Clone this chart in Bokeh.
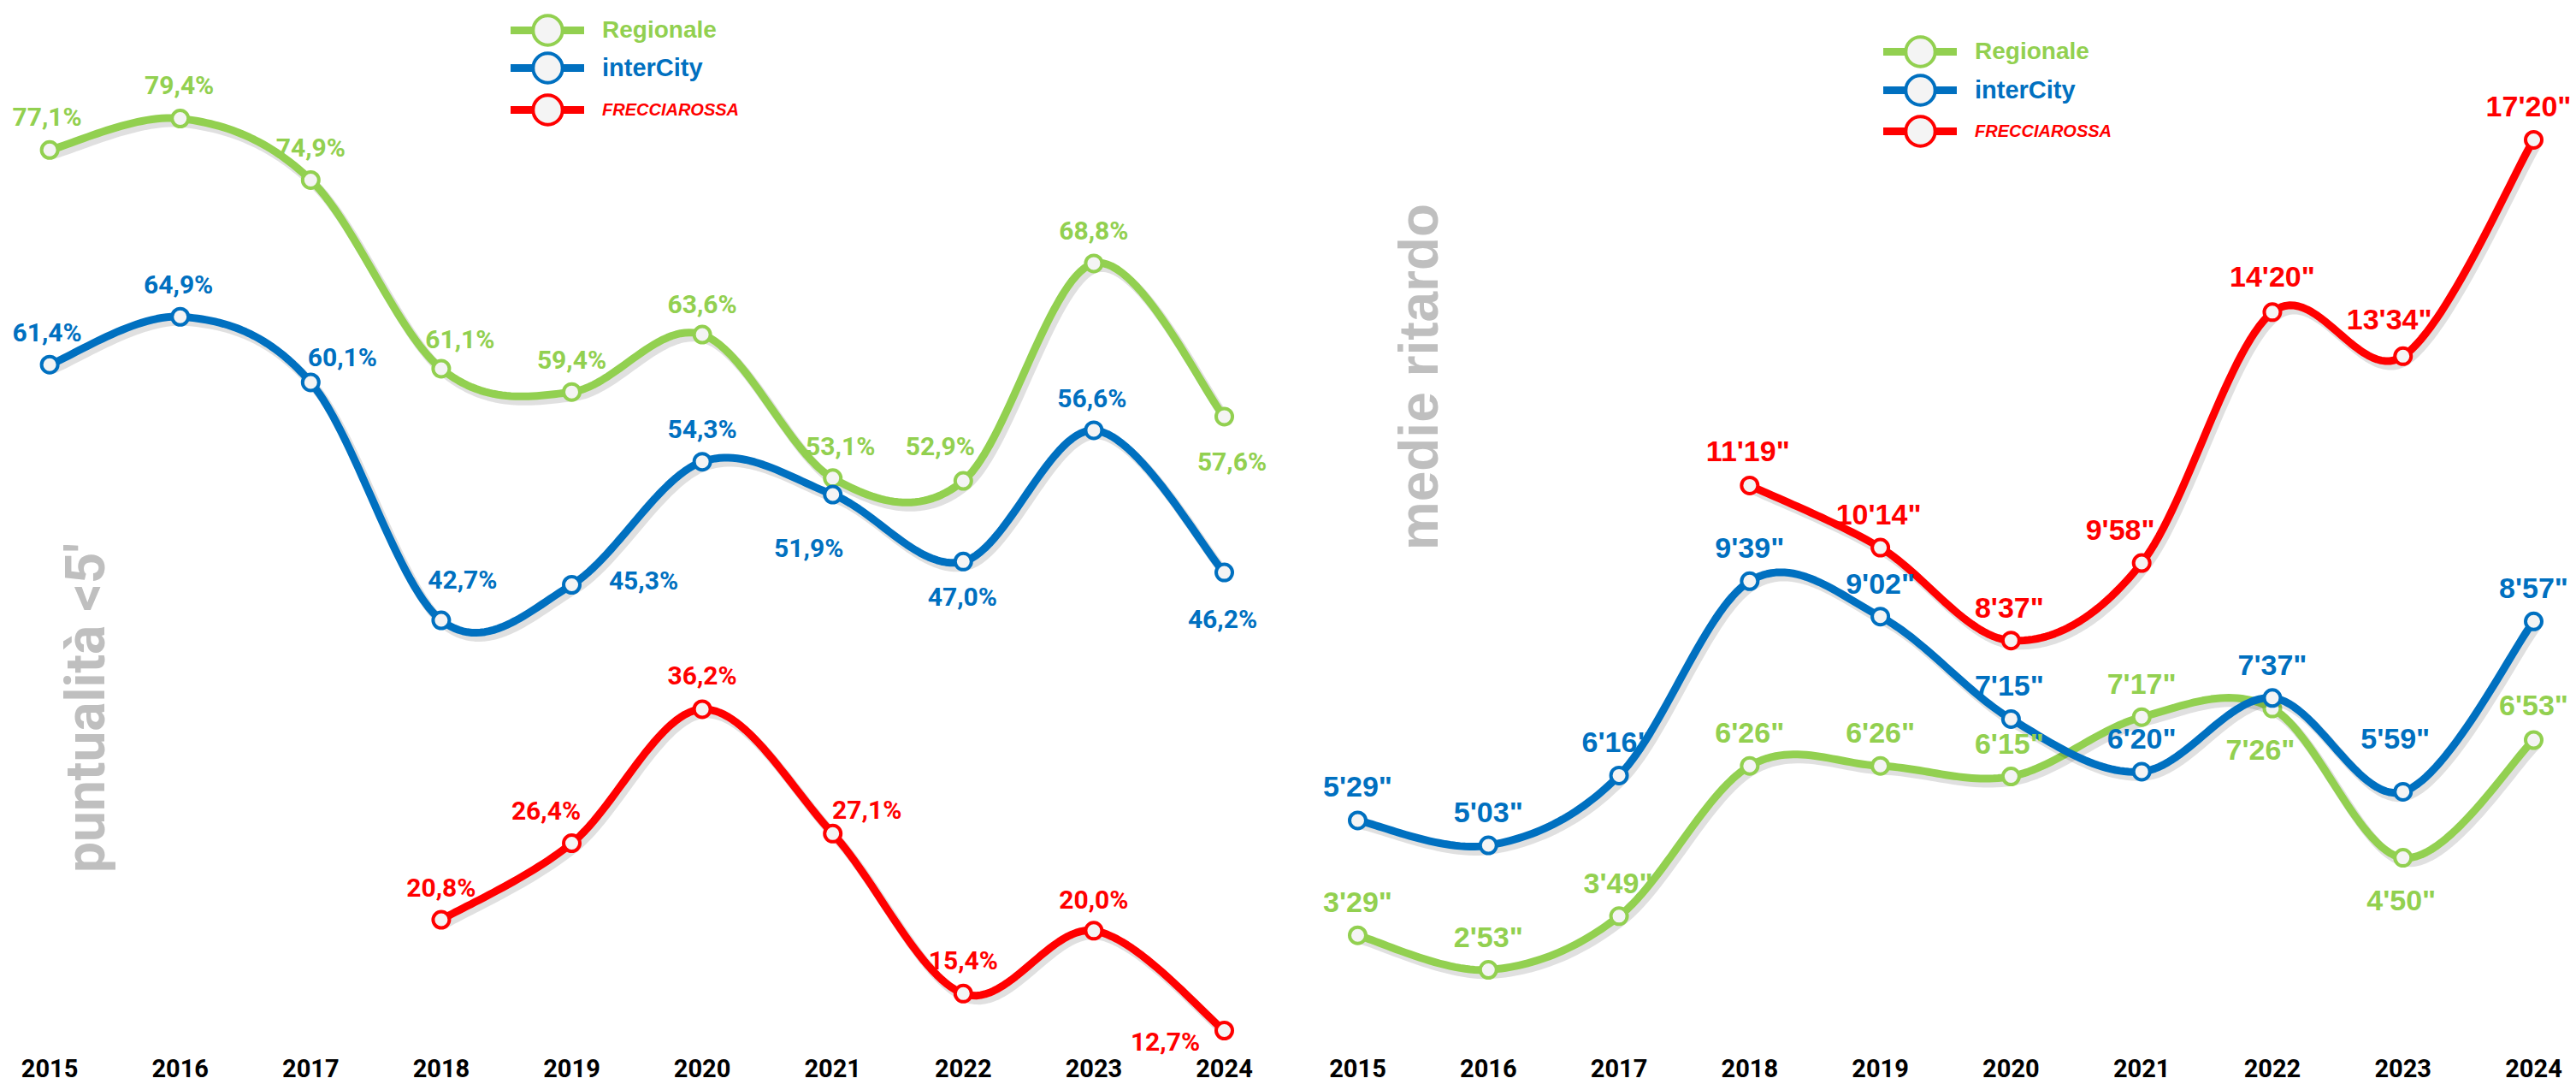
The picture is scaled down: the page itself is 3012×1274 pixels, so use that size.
import math
from bokeh.plotting import figure
from bokeh.models import (ColumnDataSource, LabelSet, Label, Legend, LegendItem,
                          FixedTicker, Range1d)
from bokeh.layouts import row
from bokeh.core.properties import value
from bokeh.embed import file_html
from bokeh.resources import INLINE

# ---------------- data ----------------
YEARS = [2015, 2016, 2017, 2018, 2019, 2020, 2021, 2022, 2023, 2024]
YEAR_LABELS = ["2015", "2016", "2017", "2018", "2019", "2020", "2021", "2022", "2023", "2024"]
SERIES_NAMES = ["Regionale", "interCity", "FRECCIAROSSA"]

# puntualità < 5' (%)
PUNT_REGIONALE = [77.1, 79.4, 74.9, 61.1, 59.4, 63.6, 53.1, 52.9, 68.8, 57.6]
PUNT_INTERCITY = [61.4, 64.9, 60.1, 42.7, 45.3, 54.3, 51.9, 47.0, 56.6, 46.2]
PUNT_FRECCIA_YEARS = [2018, 2019, 2020, 2021, 2022, 2023, 2024]
PUNT_FRECCIA = [20.8, 26.4, 36.2, 27.1, 15.4, 20.0, 12.7]

# medie ritardo (minuti'secondi")
RIT_REGIONALE = ["3'29\"", "2'53\"", "3'49\"", "6'26\"", "6'26\"", "6'15\"", "7'17\"", "7'26\"", "4'50\"", "6'53\""]
RIT_INTERCITY = ["5'29\"", "5'03\"", "6'16\"", "9'39\"", "9'02\"", "7'15\"", "6'20\"", "7'37\"", "5'59\"", "8'57\""]
RIT_FRECCIA_YEARS = [2018, 2019, 2020, 2021, 2022, 2023, 2024]
RIT_FRECCIA = ["11'19\"", "10'14\"", "8'37\"", "9'58\"", "14'20\"", "13'34\"", "17'20\""]

# ---------------- styles ----------------
GREEN = "#92d050"
BLUE = "#0070c0"
RED = "#ff0000"
GRAY = "#bfbfbf"
MARKER_FILL = "#f4f4f4"
LINE_W = 9

# label placement (screen px: dx right, dy down) relative to each point
OFF_P_REG = [(-3, -39), (-1, -39), (0, -38), (22, -34), (0, -38), (0, -36), (9, -37), (-27, -41), (0, -38), (9, 53)]
OFF_P_IC = [(-3, -38), (-2, -38), (37, -29), (25, -48), (84, -5), (0, -38), (-28, 62), (-1, 41), (-2, -37), (-2, 54)]
OFF_P_FR = [(0, -38), (-30, -38), (0, -39), (40, -28), (0, -39), (0, -36), (-69, 13)]
OFF_R_REG = [(0, -39), (0, -39), (-1, -39), (0, -39), (0, -39), (-2, -39), (0, -39), (-14, 48), (-2, 49), (0, -41)]
OFF_R_IC = [(0, -40), (0, -39), (-3, -39), (0, -39), (0, -39), (-2, -39), (0, -39), (0, -39), (-9, -62), (0, -39)]
OFF_R_FR = [(-2, -40), (-2, -39), (-2, -39), (-25, -39), (0, -42), (-16, -43), (-6, -39)]

# drop shadow offset of the lines (screen px)
SHADOW_DX, SHADOW_DY = 4, 5


def to_seconds(s):
    m, rest = s.split("'")
    return int(m) * 60 + int(rest.strip('"'))


def pct_label(v):
    return f"{v:.1f}%".replace(".", ",")


def smooth(xs, ys, steps=30):
    """Excel-style smoothed line (Catmull-Rom / cubic Bezier) through the points."""
    n = len(xs)
    out_x, out_y = [xs[0]], [ys[0]]
    for i in range(n - 1):
        x0, y0 = (xs[i - 1], ys[i - 1]) if i > 0 else (xs[i], ys[i])
        x1, y1 = xs[i], ys[i]
        x2, y2 = xs[i + 1], ys[i + 1]
        x3, y3 = (xs[i + 2], ys[i + 2]) if i + 2 < n else (xs[i + 1], ys[i + 1])
        c1x, c1y = x1 + (x2 - x0) / 6.0, y1 + (y2 - y0) / 6.0
        c2x, c2y = x2 - (x3 - x1) / 6.0, y2 - (y3 - y1) / 6.0
        for k in range(1, steps + 1):
            t = k / steps
            a, b, c, d = (1 - t) ** 3, 3 * (1 - t) ** 2 * t, 3 * (1 - t) * t ** 2, t ** 3
            out_x.append(a * x1 + b * c1x + c * c2x + d * x2)
            out_y.append(a * y1 + b * c1y + c * c2y + d * y2)
    return out_x, out_y


LEGEND_FONTS = {
    "Regionale": dict(font="Liberation Sans", size="28px", style="bold"),
    "interCity": dict(font="Liberation Sans", size="29px", style="bold"),
    "FRECCIAROSSA": dict(font="Liberation Sans", size="20px", style="bold italic"),
}

FIG_H = 1272
BOTTOM = 40


def make_panel(width, xr, yr, series, legend_x, legend_ys, title, title_xy, title_font,
               title_size, label_font, label_size):
    p = figure(width=width, height=FIG_H, x_range=Range1d(*xr), y_range=Range1d(*yr),
               output_backend="svg", toolbar_location=None, y_axis_location=None,
               min_border_left=0, min_border_right=0, min_border_top=0, min_border_bottom=BOTTOM)
    p.outline_line_color = None
    p.xgrid.visible = False
    p.ygrid.visible = False
    p.background_fill_color = "white"
    ax = p.xaxis[0]
    ax.ticker = FixedTicker(ticks=YEARS)
    ax.major_label_overrides = {y: l for y, l in zip(YEARS, YEAR_LABELS)}
    ax.axis_line_color = None
    ax.major_tick_line_color = None
    ax.minor_tick_line_color = None
    ax.major_tick_out = 0
    ax.major_tick_in = 0
    ax.minor_tick_out = 0
    ax.major_label_standoff = 5
    ax.major_label_text_font = "Roboto"
    ax.major_label_text_font_style = "bold"
    ax.major_label_text_font_size = "29px"
    ax.major_label_text_color = "#000000"

    frame_h = FIG_H - BOTTOM
    px_x = width / (xr[1] - xr[0])
    px_y = frame_h / (yr[1] - yr[0])

    for (name, xs, ys, texts, color, offs), ly in zip(series, legend_ys):
        sx, sy = smooth(xs, ys)
        # soft drop shadow under the line
        p.line([v + SHADOW_DX / px_x for v in sx], [v - SHADOW_DY / px_y for v in sy],
               line_width=LINE_W + 2, line_color="#000000", line_alpha=0.12,
               line_cap="round", line_join="round")
        lr = p.line(sx, sy, line_width=LINE_W, line_color=color, line_cap="round", line_join="round")
        sr = p.scatter(xs, ys, marker="circle", size=19, fill_color=MARKER_FILL,
                       line_color=color, line_width=4)
        src = ColumnDataSource(dict(x=xs, y=ys, text=texts,
                                    dx=[o[0] for o in offs], dy=[-o[1] for o in offs]))
        p.add_layout(LabelSet(x="x", y="y", text="text", x_offset="dx", y_offset="dy", source=src,
                              text_align="center", text_baseline="middle",
                              text_font=value(label_font), text_font_size=value(label_size),
                              text_font_style="bold", text_color=color))
        f = LEGEND_FONTS[name]
        leg = Legend(items=[LegendItem(label=name, renderers=[lr, sr])], location=(legend_x, ly),
                     orientation="vertical", glyph_width=86, glyph_height=100, label_standoff=21,
                     padding=0, margin=0, spacing=0, border_line_color=None,
                     background_fill_alpha=0, label_text_font=f["font"],
                     label_text_font_size=f["size"], label_text_font_style=f["style"],
                     label_text_color=color)
        p.add_layout(leg, "center")

    p.add_layout(Label(x=title_xy[0], y=title_xy[1], x_units="screen", y_units="screen",
                       text=title, angle=math.pi / 2, text_align="center", text_baseline="middle",
                       text_font=title_font, text_font_size=title_size, text_font_style="bold",
                       text_color=GRAY))
    return p


left_series = [
    ("Regionale", YEARS, PUNT_REGIONALE, [pct_label(v) for v in PUNT_REGIONALE], GREEN, OFF_P_REG),
    ("interCity", YEARS, PUNT_INTERCITY, [pct_label(v) for v in PUNT_INTERCITY], BLUE, OFF_P_IC),
    ("FRECCIAROSSA", PUNT_FRECCIA_YEARS, PUNT_FRECCIA, [pct_label(v) for v in PUNT_FRECCIA], RED, OFF_P_FR),
]
right_series = [
    ("Regionale", YEARS, [to_seconds(s) for s in RIT_REGIONALE], RIT_REGIONALE, GREEN, OFF_R_REG),
    ("interCity", YEARS, [to_seconds(s) for s in RIT_INTERCITY], RIT_INTERCITY, BLUE, OFF_R_IC),
    ("FRECCIAROSSA", RIT_FRECCIA_YEARS, [to_seconds(s) for s in RIT_FRECCIA], RIT_FRECCIA, RED, OFF_R_FR),
]

p1 = make_panel(1508, (2014.6225, 2024.5045), (10.948, 88.036), left_series,
                597, [1147, 1103, 1054], "puntualità <5'", (100, 405),
                "Roboto", "64px", "Roboto", "30px")
p2 = make_panel(1504, (2014.4829, 2024.3272), (84.53, 1185.67), right_series,
                694, [1122, 1077, 1029], "medie ritardo", (150, 792),
                "Liberation Sans", "64px", "Liberation Sans", "34px")

layout = row(p1, p2)
open("out.html", "w").write(file_html(layout, INLINE))
